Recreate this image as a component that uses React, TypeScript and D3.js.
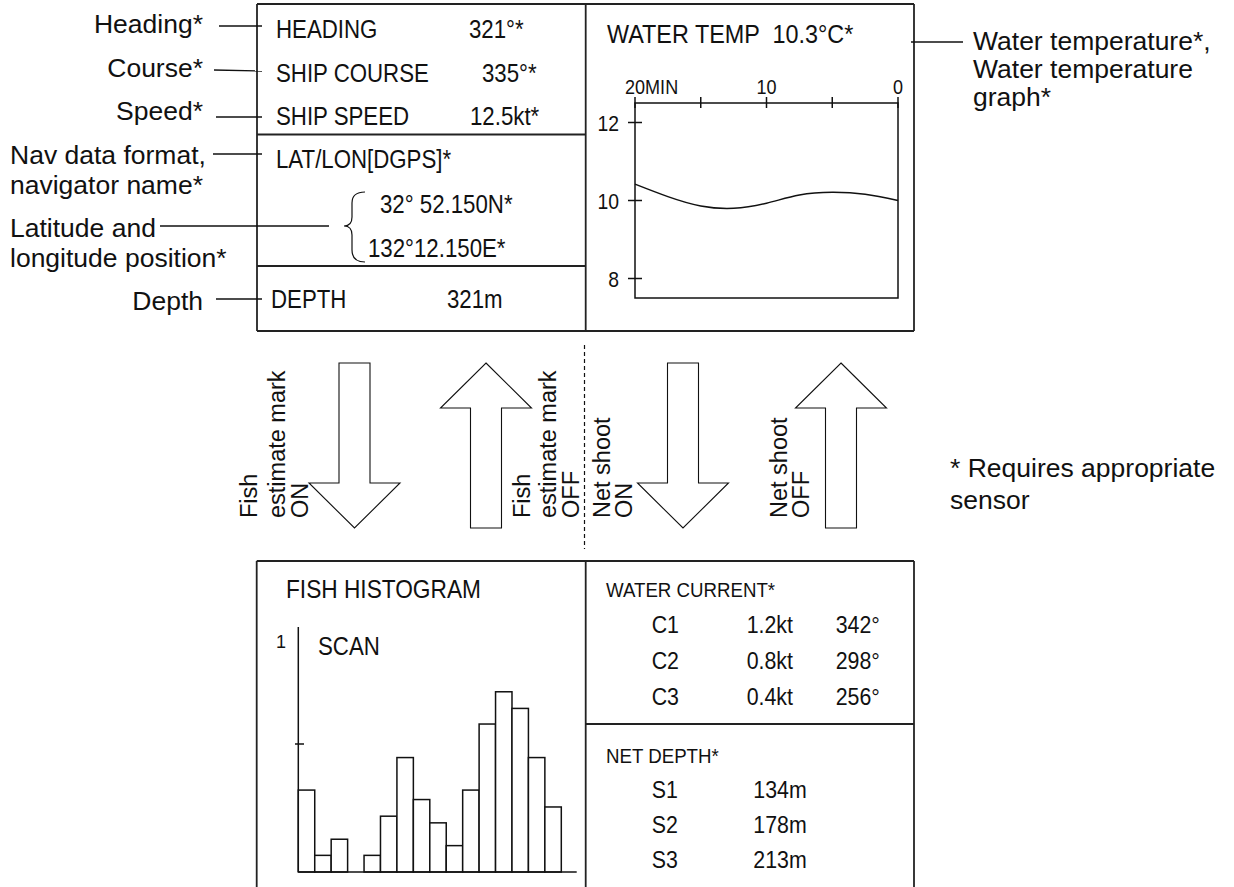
import React from "react";
import * as d3 from "d3";

// ---------- data ----------
const navRows = [
  { label: "HEADING", value: "321°*" },
  { label: "SHIP COURSE", value: "335°*" },
  { label: "SHIP SPEED", value: "12.5kt*" },
];
const navValueX = [469, 482, 470];
const latLon = ["32° 52.150N*", "132°12.150E*"];
const depthValue = "321m";

const tempTimes = [20, 17.5, 15, 12.5, 10, 7.5, 5, 2.5, 0];
const tempValues = [10.42, 10.1, 9.86, 9.8, 9.93, 10.14, 10.21, 10.16, 10.0];
const timeTicks = [20, 15, 10, 5, 0];
const timeLabels: Record<number, string> = { 20: "20MIN", 10: "10", 0: "0" };
const tempTicks = [12, 10, 8];

const histValues = [0.32, 0.065, 0.128, 0, 0.065, 0.218, 0.447, 0.283, 0.192, 0.103, 0.32, 0.578, 0.704, 0.639, 0.447, 0.254];

const currents = [
  { name: "C1", speed: "1.2kt", dir: "342°" },
  { name: "C2", speed: "0.8kt", dir: "298°" },
  { name: "C3", speed: "0.4kt", dir: "256°" },
];
const netDepths = [
  { name: "S1", depth: "134m" },
  { name: "S2", depth: "178m" },
  { name: "S3", depth: "213m" },
];

const arrows = [
  { cx: 354.5, dir: "down", labels: ["Fish", "estimate mark", "ON"], lx: [257, 285, 307.5] },
  { cx: 486, dir: "up", labels: ["Fish", "estimate mark", "OFF"], lx: [529.5, 555.5, 578.5] },
  { cx: 683, dir: "down", labels: ["Net shoot", "ON"], lx: [609.5, 631.5] },
  { cx: 841, dir: "up", labels: ["Net shoot", "OFF"], lx: [786.5, 809] },
];

const FONT = "'Liberation Sans', Arial, Helvetica, sans-serif";
const INK = "#111";

function CT({ x, y, size, children, anchor = "start", sx = 0.89 }: any) {
  return (
    <text
      transform={`translate(${x},${y}) scale(${sx},1)`}
      fontSize={size}
      textAnchor={anchor}
      fill={INK}
      style={{ whiteSpace: "pre" }}
    >
      {children}
    </text>
  );
}

function Label({ x, y, children, anchor = "start", size = 26.5 }: any) {
  return (
    <text x={x} y={y} fontSize={size} textAnchor={anchor} fill={INK}>
      {children}
    </text>
  );
}

function arrowPath(cx: number, dir: string) {
  const top = 363, bottom = 528, shaftW = 31, headW = 91, headL = 45;
  const sh = shaftW / 2, hh = headW / 2;
  if (dir === "down") {
    const base = bottom - headL;
    return `M${cx - sh},${top} L${cx + sh},${top} L${cx + sh},${base} L${cx + hh},${base} L${cx},${bottom} L${cx - hh},${base} L${cx - sh},${base} Z`;
  }
  const base = top + headL;
  return `M${cx},${top} L${cx + hh},${base} L${cx + sh},${base} L${cx + sh},${bottom} L${cx - sh},${bottom} L${cx - sh},${base} L${cx - hh},${base} Z`;
}

export default function App() {
  // water temperature chart scales
  const tx = d3.scaleLinear().domain([20, 0]).range([635, 898]);
  const ty = d3.scaleLinear().domain([7.5, 12.5]).range([298, 103]);
  const line = d3
    .line<number>()
    .x((_, i) => tx(tempTimes[i]))
    .y((d) => ty(d))
    .curve(d3.curveNatural);

  // histogram scales
  const hx = d3.scaleBand<number>().domain(d3.range(histValues.length)).range([298.3, 561.3]).padding(0);
  const hy = d3.scaleLinear().domain([0, 1]).range([872, 616]);

  const box = { stroke: "#222", strokeWidth: 1.8, fill: "none" };
  const thin = { stroke: INK, strokeWidth: 1.3 };

  return (
    <svg
      width={1234}
      height={887}
      style={{ position: "absolute", left: 0, top: 0, background: "#fff" }}
      fontFamily={FONT}
    >
      <rect x={0} y={0} width={1234} height={887} fill="#fff" />

      {/* ---------- top boxes ---------- */}
      <line x1={257} y1={4} x2={914} y2={4} {...box} />
      <line x1={257} y1={331} x2={914} y2={331} {...box} />
      <line x1={257} y1={4} x2={257} y2={331} {...box} />
      <line x1={585.7} y1={4} x2={585.7} y2={331} {...box} />
      <line x1={914} y1={4} x2={914} y2={331} {...box} />
      <line x1={257} y1={134.5} x2={585.7} y2={134.5} {...box} />
      <line x1={257} y1={266} x2={585.7} y2={266} {...box} />

      {/* nav rows */}
      {navRows.map((r, i) => (
        <g key={r.label}>
          <CT x={276} y={[38, 82, 125][i]} size={25}>{r.label}</CT>
          <CT x={navValueX[i]} y={[38, 82, 125][i]} size={25}>{r.value}</CT>
        </g>
      ))}
      <CT x={276} y={168} size={25}>LAT/LON[DGPS]*</CT>
      <CT x={380} y={213} size={25}>{latLon[0]}</CT>
      <CT x={368} y={257} size={25}>{latLon[1]}</CT>
      <path
        d="M365,192 Q352,192 352,203 L352,217 Q352,226 344,226 Q352,226 352,235 L352,250 Q352,262 365,262"
        fill="none"
        stroke={INK}
        strokeWidth={1.2}
      />
      <CT x={271} y={308} size={25}>DEPTH</CT>
      <CT x={447} y={308} size={25}>{depthValue}</CT>

      {/* left annotations */}
      <Label x={203} y={33} anchor="end">Heading*</Label>
      <Label x={203} y={77} anchor="end">Course*</Label>
      <Label x={203} y={120} anchor="end">Speed*</Label>
      <Label x={10} y={164}>Nav data format,</Label>
      <Label x={10} y={194}>navigator name*</Label>
      <Label x={10} y={237}>Latitude and</Label>
      <Label x={10} y={267}>longitude position*</Label>
      <Label x={203} y={310} anchor="end">Depth</Label>
      <line x1={219} y1={26} x2={262} y2={26} {...thin} />
      <line x1={214} y1={70} x2={262} y2={71} {...thin} />
      <line x1={216} y1={117} x2={262} y2={117} {...thin} />
      <line x1={213} y1={154} x2={262} y2={154} {...thin} />
      <line x1={160} y1={226} x2={329} y2={226} {...thin} />
      <line x1={216} y1={299} x2={262} y2={299} {...thin} />

      {/* water temp */}
      <CT x={607} y={43} size={26} sx={0.9}>{"WATER TEMP  10.3°C*"}</CT>
      <rect x={635} y={103} width={263} height={195} fill="none" stroke={INK} strokeWidth={1.5} />
      {timeTicks.map((t) => (
        <line key={t} x1={tx(t)} y1={97} x2={tx(t)} y2={108} stroke={INK} strokeWidth={1.5} />
      ))}
      {timeTicks
        .filter((t) => timeLabels[t] !== undefined)
        .map((t) =>
          t === 20 ? (
            <CT key={t} x={tx(t) - 10} y={94} size={21} sx={0.86}>{timeLabels[t]}</CT>
          ) : (
            <CT key={t} x={tx(t)} y={94} size={21} sx={0.86} anchor="middle">{timeLabels[t]}</CT>
          )
        )}
      {tempTicks.map((v) => (
        <g key={v}>
          <line x1={628} y1={ty(v)} x2={642} y2={ty(v)} stroke={INK} strokeWidth={1.5} />
          <CT x={619} y={ty(v) + 8} size={22} sx={0.88} anchor="end">{String(v)}</CT>
        </g>
      ))}
      <path d={line(tempValues) || ""} fill="none" stroke={INK} strokeWidth={1.5} />

      <line x1={911} y1={42} x2={963} y2={42} {...thin} />
      <Label x={973} y={50}>Water temperature*,</Label>
      <Label x={973} y={78}>Water temperature</Label>
      <Label x={973} y={106}>graph*</Label>

      {/* ---------- arrows ---------- */}
      <line x1={584.5} y1={345} x2={584.5} y2={549} stroke={INK} strokeWidth={1.2} strokeDasharray="4,3" />
      {arrows.map((a, i) => (
        <g key={i}>
          <path d={arrowPath(a.cx, a.dir)} fill="#fff" stroke={INK} strokeWidth={1.1} />
          {a.labels.map((l, j) => (
            <text
              key={j}
              transform={`translate(${a.lx[j]},518) rotate(-90)`}
              fontSize={23.5}
              fill={INK}
            >
              {l}
            </text>
          ))}
        </g>
      ))}

      <Label x={950} y={477}>* Requires appropriate</Label>
      <Label x={950} y={509}>sensor</Label>

      {/* ---------- bottom boxes ---------- */}
      <line x1={256.7} y1={561} x2={914} y2={561} {...box} />
      <line x1={256.7} y1={561} x2={256.7} y2={890} {...box} />
      <line x1={585.7} y1={561} x2={585.7} y2={890} {...box} />
      <line x1={914} y1={561} x2={914} y2={890} {...box} />
      <line x1={585.7} y1={724} x2={914} y2={724} {...box} />

      {/* histogram */}
      <CT x={286} y={598} size={25.5}>FISH HISTOGRAM</CT>
      <CT x={318} y={655} size={25}>SCAN</CT>
      <text x={281} y={648} fontSize={18} textAnchor="middle" fill={INK}>1</text>
      <line x1={298.3} y1={hy(0)} x2={298.3} y2={627} stroke={INK} strokeWidth={1.5} />
      <line x1={295} y1={hy(0.5)} x2={304} y2={hy(0.5)} stroke={INK} strokeWidth={1.5} />
      {histValues.map((v, i) =>
        v > 0 ? (
          <rect
            key={i}
            x={hx(i)}
            y={hy(v)}
            width={hx.bandwidth()}
            height={hy(0) - hy(v)}
            fill="#fff"
            stroke={INK}
            strokeWidth={1.5}
          />
        ) : null
      )}
      <line x1={298.3} y1={hy(0)} x2={576.7} y2={hy(0)} stroke={INK} strokeWidth={1.5} />

      {/* water current */}
      <CT x={606} y={597} size={21} sx={0.89}>WATER CURRENT*</CT>
      {currents.map((c, i) => (
        <g key={c.name}>
          <CT x={651.7} y={633.3 + i * 35.8} size={24}>{c.name}</CT>
          <CT x={746.7} y={633.3 + i * 35.8} size={24}>{c.speed}</CT>
          <CT x={835.7} y={633.3 + i * 35.8} size={24}>{c.dir}</CT>
        </g>
      ))}
      <CT x={606} y={762.7} size={21} sx={0.89}>NET DEPTH*</CT>
      {netDepths.map((s, i) => (
        <g key={s.name}>
          <CT x={651.7} y={798.3 + i * 35} size={24}>{s.name}</CT>
          <CT x={753.3} y={798.3 + i * 35} size={24}>{s.depth}</CT>
        </g>
      ))}
    </svg>
  );
}
